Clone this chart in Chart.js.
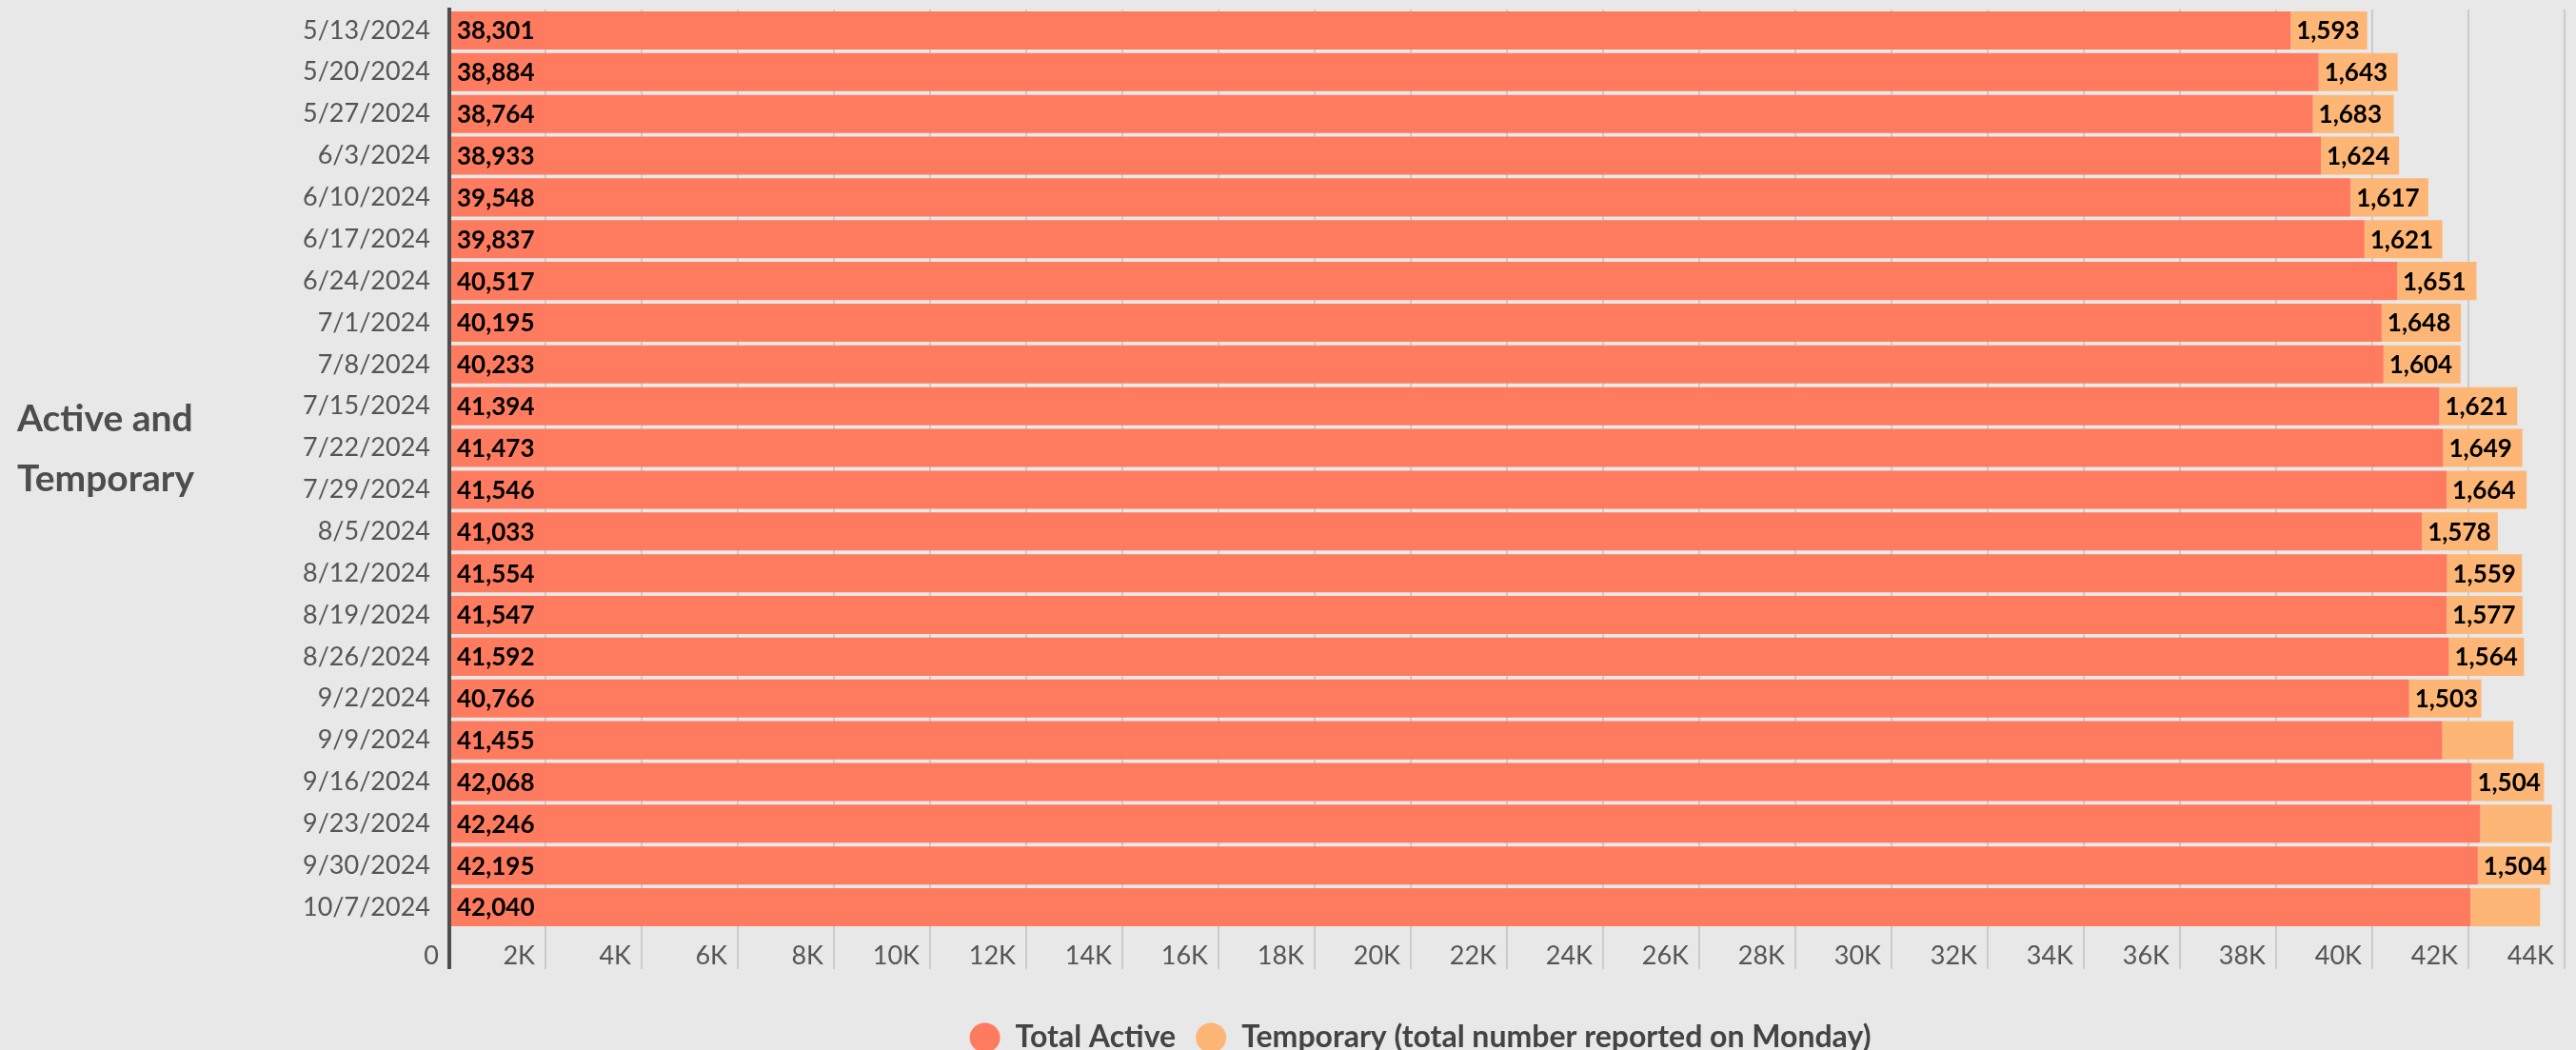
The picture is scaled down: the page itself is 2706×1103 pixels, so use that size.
<!DOCTYPE html>
<html>
<head>
<meta charset="utf-8">
<script src="https://cdn.jsdelivr.net/npm/chart.js@4"></script>
<style>
  html, body { margin: 0; padding: 0; background: #e7e8e7; overflow: hidden; }
  #chart { display: block; }
</style>
</head>
<body>
<canvas id="chart" width="2706" height="1116" style="width:2706px;height:1116px"></canvas>
<script>
// weeks (Monday)
var weeks = ["5/13/2024", "5/20/2024", "5/27/2024", "6/3/2024", "6/10/2024", "6/17/2024",
  "6/24/2024", "7/1/2024", "7/8/2024", "7/15/2024", "7/22/2024", "7/29/2024", "8/5/2024",
  "8/12/2024", "8/19/2024", "8/26/2024", "9/2/2024", "9/9/2024", "9/16/2024", "9/23/2024",
  "9/30/2024", "10/7/2024"];

var totalActive = [38301, 38884, 38764, 38933, 39548, 39837, 40517, 40195, 40233, 41394, 41473,
  41546, 41033, 41554, 41547, 41592, 40766, 41455, 42068, 42246, 42195, 42040];

// 9/9, 9/23 and 10/7 have no label in the picture
var temporary = [1593, 1643, 1683, 1624, 1617, 1621, 1651, 1648, 1604, 1621, 1649, 1664, 1578,
  1559, 1577, 1564, 1503, 1480, 1504, 1490, 1504, 1450];
var unlabeledTemp = ["9/9/2024", "9/23/2024", "10/7/2024"];

var xTicks = { min: 0, max: 44000, step: 2000 };
var axisTitle = ["Active and", "Temporary"];

var FONT = "Lato, 'Noto Sans', sans-serif";

// value labels at the start of each bar segment
var barLabels = {
  id: "barLabels",
  afterDatasetsDraw: function (chart) {
    var ctx = chart.ctx;
    ctx.save();
    ctx.font = "bold 26px " + FONT;
    ctx.fillStyle = "#000";
    ctx.textBaseline = "middle";
    ctx.textAlign = "left";
    chart.data.datasets.forEach(function (ds, di) {
      var meta = chart.getDatasetMeta(di);
      meta.data.forEach(function (bar, i) {
        if (di === 1 && unlabeledTemp.indexOf(weeks[i]) >= 0) return;
        var left = Math.min(bar.x, bar.base);
        ctx.fillText(ds.data[i].toLocaleString("en-US"), left + 6, bar.y + 1);
      });
    });
    ctx.restore();
  },
};

// horizontal two line title on the left
var sideTitle = {
  id: "sideTitle",
  afterDraw: function (chart) {
    var ctx = chart.ctx;
    var mid = (chart.chartArea.top + chart.chartArea.bottom) / 2;
    ctx.save();
    ctx.font = "bold 39px " + FONT;
    ctx.fillStyle = "#4d4d4d";
    ctx.textBaseline = "middle";
    ctx.textAlign = "left";
    ctx.fillText(axisTitle[0], 18, mid - 52);
    ctx.fillText(axisTitle[1], 18, mid + 11);
    ctx.restore();
  },
};

var ctx = document.getElementById("chart").getContext("2d");
var chart = new Chart(ctx, {
  type: "bar",
  data: {
    labels: weeks,
    datasets: [
      {
        label: "Total Active",
        data: totalActive,
        backgroundColor: "#ff7b5f",
        borderWidth: 0,
        barPercentage: 0.913,
        categoryPercentage: 1,
      },
      {
        label: "Temporary (total number reported on Monday)",
        data: temporary,
        backgroundColor: "#fdb675",
        borderWidth: 0,
        barPercentage: 0.913,
        categoryPercentage: 1,
      },
    ],
  },
  options: {
    indexAxis: "y",
    responsive: false,
    animation: false,
    devicePixelRatio: 1,
    layout: { padding: { left: 290, right: 12, top: 10, bottom: 0 } },
    plugins: {
      tooltip: { enabled: false },
      legend: {
        position: "bottom",
        labels: {
          usePointStyle: true,
          pointStyle: "circle",
          pointStyleWidth: 32,
          boxHeight: 22,
          padding: 21,
          color: "#444",
          font: { family: FONT, size: 32, weight: "bold" },
        },
      },
    },
    scales: {
      x: {
        stacked: true,
        min: xTicks.min,
        max: xTicks.max,
        afterFit: function (scale) {
          scale.height = 78;
        },
        ticks: {
          stepSize: xTicks.step,
          align: "end",
          labelOffset: -11,
          padding: -30,
          color: "#555",
          font: { family: FONT, size: 27 },
          autoSkip: false,
          maxRotation: 0,
          callback: function (v) {
            return v === 0 ? "0" : v / 1000 + "K";
          },
        },
        grid: {
          color: function (c) {
            return c.tick && c.tick.value === 0 ? "#4d4d4d" : "#cbcbcb";
          },
          tickColor: function (c) {
            return c.tick && c.tick.value === 0 ? "#4d4d4d" : "#cbcbcb";
          },
          lineWidth: function (c) {
            return c.tick && c.tick.value === 0 ? 4 : 2;
          },
          tickLength: 43,
        },
        border: { display: false },
      },
      y: {
        stacked: true,
        afterFit: function (scale) {
          scale.width = 182;
          // no extra room above / below the first and last label
          scale.paddingTop = 0;
          scale.paddingBottom = 0;
        },
        ticks: {
          padding: 20,
          color: "#555",
          font: { family: FONT, size: 27 },
          autoSkip: false,
        },
        grid: { display: false, drawTicks: false },
        border: { display: true, color: "#4d4d4d", width: 4, z: 1 },
      },
    },
  },
  plugins: [barLabels, sideTitle],
});
</script>
</body>
</html>
